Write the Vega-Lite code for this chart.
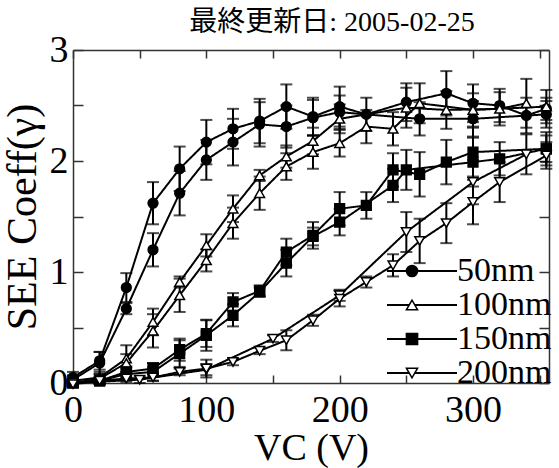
{
  "$schema": "https://vega.github.io/schema/vega-lite/v6.json",
  "width": 476,
  "height": 333,
  "autosize": "none",
  "padding": {"left": 73, "top": 50, "right": 10, "bottom": 85},
  "background": "white",
  "title": {"text": "最終更新日: 2005-02-25", "fontSize": 28, "font": "Liberation Serif, Noto Sans CJK JP", "fontWeight": "normal", "color": "black", "anchor": "middle", "dx": 21, "offset": -6},
  "config": {
    "view": {"stroke": null},
    "axis": {"grid": false, "domainColor": "#333", "domainWidth": 1.5, "tickColor": "#333", "tickWidth": 1.5, "labelFont": "Liberation Serif", "labelColor": "black", "titleFont": "Liberation Serif", "titleColor": "black", "titleFontWeight": "normal", "labelOverlap": false, "labelFlush": false, "labelBound": false}
  },
  "data": {"values": [
    {"s":"50nm","r":"a","v":0,"g":0.05,"e":0.05},
    {"s":"50nm","r":"a","v":20,"g":0.20,"e":0.08},
    {"s":"50nm","r":"a","v":40,"g":0.86,"e":0.13},
    {"s":"50nm","r":"a","v":60,"g":1.62,"e":0.19},
    {"s":"50nm","r":"a","v":80,"g":1.93,"e":0.2},
    {"s":"50nm","r":"a","v":100,"g":2.17,"e":0.2},
    {"s":"50nm","r":"a","v":120,"g":2.29,"e":0.18},
    {"s":"50nm","r":"a","v":140,"g":2.36,"e":0.2},
    {"s":"50nm","r":"a","v":160,"g":2.49,"e":0.2},
    {"s":"50nm","r":"a","v":180,"g":2.40,"e":0.17},
    {"s":"50nm","r":"a","v":200,"g":2.49,"e":0.18},
    {"s":"50nm","r":"a","v":220,"g":2.42,"e":0.15},
    {"s":"50nm","r":"a","v":250,"g":2.53,"e":0.17},
    {"s":"50nm","r":"a","v":280,"g":2.61,"e":0.2},
    {"s":"50nm","r":"a","v":300,"g":2.52,"e":0.17},
    {"s":"50nm","r":"a","v":320,"g":2.50,"e":0.15},
    {"s":"50nm","r":"a","v":340,"g":2.41,"e":0.16},
    {"s":"50nm","r":"a","v":355,"g":2.47,"e":0.1},
    {"s":"50nm","r":"b","v":0,"g":0.03,"e":0.04},
    {"s":"50nm","r":"b","v":20,"g":0.18,"e":0.1},
    {"s":"50nm","r":"b","v":40,"g":0.67,"e":0.05},
    {"s":"50nm","r":"b","v":60,"g":1.2,"e":0.15},
    {"s":"50nm","r":"b","v":80,"g":1.71,"e":0.2},
    {"s":"50nm","r":"b","v":100,"g":2.01,"e":0.18},
    {"s":"50nm","r":"b","v":120,"g":2.17,"e":0.21},
    {"s":"50nm","r":"b","v":140,"g":2.33,"e":0.2},
    {"s":"50nm","r":"b","v":160,"g":2.31,"e":0.19},
    {"s":"50nm","r":"b","v":180,"g":2.39,"e":0.16},
    {"s":"50nm","r":"b","v":200,"g":2.44,"e":0.15},
    {"s":"50nm","r":"b","v":260,"g":2.38,"e":0.15},
    {"s":"50nm","r":"b","v":300,"g":2.38,"e":0.16},
    {"s":"50nm","r":"b","v":355,"g":2.42,"e":0.12},
    {"s":"100nm","r":"a","v":0,"g":0.02,"e":0.04},
    {"s":"100nm","r":"a","v":20,"g":0.05,"e":0.05},
    {"s":"100nm","r":"a","v":40,"g":0.22,"e":0.12},
    {"s":"100nm","r":"a","v":60,"g":0.55,"e":0.12},
    {"s":"100nm","r":"a","v":80,"g":0.91,"e":0.05},
    {"s":"100nm","r":"a","v":100,"g":1.24,"e":0.1},
    {"s":"100nm","r":"a","v":120,"g":1.57,"e":0.12},
    {"s":"100nm","r":"a","v":140,"g":1.87,"e":0.05},
    {"s":"100nm","r":"a","v":160,"g":2.04,"e":0.1},
    {"s":"100nm","r":"a","v":180,"g":2.18,"e":0.12},
    {"s":"100nm","r":"a","v":200,"g":2.38,"e":0.13},
    {"s":"100nm","r":"a","v":250,"g":2.48,"e":0.18},
    {"s":"100nm","r":"a","v":280,"g":2.46,"e":0.17},
    {"s":"100nm","r":"a","v":320,"g":2.47,"e":0.15},
    {"s":"100nm","r":"a","v":340,"g":2.52,"e":0.22},
    {"s":"100nm","r":"b","v":0,"g":0.0,"e":0.03},
    {"s":"100nm","r":"b","v":20,"g":0.04,"e":0.04},
    {"s":"100nm","r":"b","v":40,"g":0.18,"e":0.08},
    {"s":"100nm","r":"b","v":60,"g":0.47,"e":0.15},
    {"s":"100nm","r":"b","v":80,"g":0.79,"e":0.15},
    {"s":"100nm","r":"b","v":100,"g":1.105,"e":0.1},
    {"s":"100nm","r":"b","v":120,"g":1.44,"e":0.14},
    {"s":"100nm","r":"b","v":140,"g":1.71,"e":0.15},
    {"s":"100nm","r":"b","v":160,"g":1.95,"e":0.12},
    {"s":"100nm","r":"b","v":180,"g":2.08,"e":0.15},
    {"s":"100nm","r":"b","v":200,"g":2.16,"e":0.12},
    {"s":"100nm","r":"b","v":220,"g":2.31,"e":0.15},
    {"s":"100nm","r":"b","v":240,"g":2.29,"e":0.15},
    {"s":"100nm","r":"b","v":260,"g":2.52,"e":0.18},
    {"s":"100nm","r":"b","v":300,"g":2.46,"e":0.15},
    {"s":"100nm","r":"b","v":355,"g":2.49,"e":0.15},
    {"s":"150nm","r":"a","v":0,"g":0.0,"e":0.03},
    {"s":"150nm","r":"a","v":20,"g":0.02,"e":0.03},
    {"s":"150nm","r":"a","v":40,"g":0.1,"e":0.05},
    {"s":"150nm","r":"a","v":60,"g":0.13,"e":0.05},
    {"s":"150nm","r":"a","v":80,"g":0.3,"e":0.1},
    {"s":"150nm","r":"a","v":100,"g":0.445,"e":0.12},
    {"s":"150nm","r":"a","v":120,"g":0.73,"e":0.08},
    {"s":"150nm","r":"a","v":140,"g":0.83,"e":0.05},
    {"s":"150nm","r":"a","v":160,"g":1.18,"e":0.12},
    {"s":"150nm","r":"a","v":180,"g":1.33,"e":0.12},
    {"s":"150nm","r":"a","v":200,"g":1.57,"e":0.15},
    {"s":"150nm","r":"a","v":220,"g":1.60,"e":0.12},
    {"s":"150nm","r":"a","v":240,"g":1.92,"e":0.15},
    {"s":"150nm","r":"a","v":260,"g":1.88,"e":0.2},
    {"s":"150nm","r":"a","v":280,"g":1.99,"e":0.2},
    {"s":"150nm","r":"a","v":300,"g":2.08,"e":0.22},
    {"s":"150nm","r":"a","v":355,"g":2.11,"e":0.15},
    {"s":"150nm","r":"b","v":0,"g":0.0,"e":0.03},
    {"s":"150nm","r":"b","v":20,"g":0.02,"e":0.03},
    {"s":"150nm","r":"b","v":40,"g":0.08,"e":0.05},
    {"s":"150nm","r":"b","v":60,"g":0.1,"e":0.08},
    {"s":"150nm","r":"b","v":80,"g":0.265,"e":0.12},
    {"s":"150nm","r":"b","v":100,"g":0.43,"e":0.14},
    {"s":"150nm","r":"b","v":120,"g":0.61,"e":0.1},
    {"s":"150nm","r":"b","v":140,"g":0.82,"e":0.04},
    {"s":"150nm","r":"b","v":160,"g":1.08,"e":0.12},
    {"s":"150nm","r":"b","v":180,"g":1.32,"e":0.08},
    {"s":"150nm","r":"b","v":200,"g":1.45,"e":0.12},
    {"s":"150nm","r":"b","v":240,"g":1.78,"e":0.15},
    {"s":"150nm","r":"b","v":250,"g":1.92,"e":0.18},
    {"s":"150nm","r":"b","v":300,"g":1.99,"e":0.22},
    {"s":"150nm","r":"b","v":320,"g":2.02,"e":0.15},
    {"s":"150nm","r":"b","v":355,"g":2.11,"e":0.12},
    {"s":"200nm","r":"a","v":0,"g":0.0,"e":0.03},
    {"s":"200nm","r":"a","v":50,"g":0.03,"e":0.03},
    {"s":"200nm","r":"a","v":100,"g":0.12,"e":0.05},
    {"s":"200nm","r":"a","v":150,"g":0.40,"e":0.03},
    {"s":"200nm","r":"a","v":200,"g":0.79,"e":0.05},
    {"s":"200nm","r":"a","v":250,"g":1.36,"e":0.18},
    {"s":"200nm","r":"a","v":300,"g":1.81,"e":0.2},
    {"s":"200nm","r":"a","v":340,"g":2.06,"e":0.18},
    {"s":"200nm","r":"b","v":0,"g":-0.01,"e":0.03},
    {"s":"200nm","r":"b","v":20,"g":0.02,"e":0.03},
    {"s":"200nm","r":"b","v":40,"g":0.04,"e":0.03},
    {"s":"200nm","r":"b","v":60,"g":0.05,"e":0.03},
    {"s":"200nm","r":"b","v":80,"g":0.1,"e":0.03},
    {"s":"200nm","r":"b","v":100,"g":0.13,"e":0.08},
    {"s":"200nm","r":"b","v":120,"g":0.19,"e":0.03},
    {"s":"200nm","r":"b","v":140,"g":0.29,"e":0.03},
    {"s":"200nm","r":"b","v":160,"g":0.385,"e":0.09},
    {"s":"200nm","r":"b","v":180,"g":0.565,"e":0.05},
    {"s":"200nm","r":"b","v":200,"g":0.76,"e":0.07},
    {"s":"200nm","r":"b","v":220,"g":0.91,"e":0.05},
    {"s":"200nm","r":"b","v":240,"g":1.06,"e":0.1},
    {"s":"200nm","r":"b","v":260,"g":1.28,"e":0.2},
    {"s":"200nm","r":"b","v":280,"g":1.44,"e":0.18},
    {"s":"200nm","r":"b","v":300,"g":1.63,"e":0.2},
    {"s":"200nm","r":"b","v":320,"g":1.81,"e":0.18},
    {"s":"200nm","r":"b","v":355,"g":2.05,"e":0.12}
  ]},
  "layer": [
    {
      "mark": {"type": "line", "color": "black", "strokeWidth": 2, "clip": false},
      "encoding": {
        "x": {"field": "v", "type": "quantitative", "scale": {"domain": [0, 357], "nice": false, "zero": false},
          "axis": {"orient": "bottom", "values": [0, 50, 100, 150, 200, 250, 300, 350], "labelExpr": "datum.value % 100 === 0 ? format(datum.value, 'd') : ''", "tickSize": -8, "labelPadding": 16, "labelFontSize": 38, "title": "VC (V)", "titleFontSize": 38, "titlePadding": 0}},
        "y": {"field": "g", "type": "quantitative", "scale": {"domain": [0, 3], "nice": false, "zero": false},
          "axis": {"orient": "left", "values": [0, 0.5, 1, 1.5, 2, 2.5, 3], "labelExpr": "datum.value % 1 === 0 ? format(datum.value, 'd') : ''", "tickSize": -10, "labelPadding": 15, "labelFontSize": 38, "title": "SEE Coeff(γ)", "titleFontSize": 42, "titlePadding": 5}},
        "detail": [{"field": "s"}, {"field": "r"}],
        "strokeDash": {"field": "s", "type": "nominal", "scale": {"range": [[1, 0], [1, 0], [1, 0], [1, 0]]},
          "legend": {"orient": "none", "legendX": 332, "legendY": 204, "title": null, "symbolType": "M-7,0H7", "symbolSize": 100, "symbolStrokeWidth": 2, "symbolStrokeColor": "black", "labelFontSize": 34, "labelFont": "Liberation Serif", "labelColor": "transparent", "rowPadding": 0, "padding": 0}}
      }
    },
    {
      "mark": {"type": "errorbar", "ticks": {"size": 12, "thickness": 2, "color": "black"}, "thickness": 2, "color": "black", "clip": false},
      "encoding": {
        "x": {"field": "v", "type": "quantitative", "axis": null},
        "y": {"field": "g", "type": "quantitative", "axis": null},
        "yError": {"field": "e"}
      }
    },
    {
      "mark": {"type": "point", "strokeWidth": 1.5, "size": 95, "opacity": 1, "fillOpacity": 1, "strokeOpacity": 1, "clip": false},
      "encoding": {
        "x": {"field": "v", "type": "quantitative", "axis": null},
        "y": {"field": "g", "type": "quantitative", "axis": null},
        "shape": {"field": "s", "type": "nominal", "scale": {"domain": ["50nm", "100nm", "150nm", "200nm"], "range": ["circle", "triangle-up", "square", "triangle-down"]},
          "legend": {"orient": "none", "legendX": 322, "legendY": 204, "title": null, "labelFontSize": 34, "labelFont": "Liberation Serif", "labelColor": "black", "labelOffset": 28, "symbolSize": 125, "symbolStrokeWidth": 1.5, "rowPadding": 0, "padding": 0}},
        "fill": {"field": "s", "type": "nominal", "scale": {"domain": ["50nm", "100nm", "150nm", "200nm"], "range": ["black", "white", "black", "white"]},
          "legend": {"orient": "none", "legendX": 322, "legendY": 204, "title": null, "labelFontSize": 34, "labelFont": "Liberation Serif", "labelColor": "black", "labelOffset": 28, "symbolSize": 125, "symbolStrokeWidth": 1.5, "rowPadding": 0, "padding": 0}},
        "stroke": {"field": "s", "type": "nominal", "scale": {"domain": ["50nm", "100nm", "150nm", "200nm"], "range": ["black", "black", "black", "black"]},
          "legend": {"orient": "none", "legendX": 322, "legendY": 204, "title": null, "labelFontSize": 34, "labelFont": "Liberation Serif", "labelColor": "black", "labelOffset": 28, "symbolSize": 125, "symbolStrokeWidth": 1.5, "rowPadding": 0, "padding": 0}}
      }
    },
    {
      "mark": {"type": "point", "opacity": 0},
      "encoding": {
        "x": {"field": "v", "type": "quantitative",
          "axis": {"orient": "top", "values": [0, 50, 100, 150, 200, 250, 300, 350], "labels": false, "tickSize": -8, "title": null}},
        "y": {"field": "g", "type": "quantitative",
          "axis": {"orient": "right", "values": [0, 0.5, 1, 1.5, 2, 2.5, 3], "labels": false, "tickSize": -10, "title": null}}
      }
    }
  ],
  "resolve": {"axis": {"x": "independent", "y": "independent"}}
}
